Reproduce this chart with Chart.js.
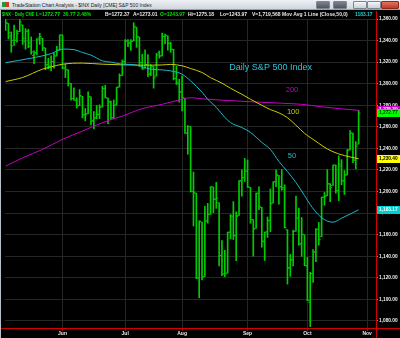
<!DOCTYPE html>
<html>
<head>
<meta charset="utf-8">
<script src="https://cdn.jsdelivr.net/npm/chart.js@4.4.1/dist/chart.umd.min.js"></script>
<style>
  body { margin: 0; background: #000; }
  #frame { position: relative; width: 400px; height: 338px; background: #000; overflow: hidden; font-family: 'Liberation Sans', Arial, sans-serif; }
  #chart { position: absolute; left: 0; top: 0; }
  #titlebar { position: absolute; left: 0; top: 0; width: 400px; height: 10px; background: linear-gradient(#eef1f5, #d0d6de); border-bottom: 1px solid #98a1ab; box-sizing: border-box; }
  #titlebar .txt { position: absolute; left: 12px; top: 1px; font-size: 5px; line-height: 8px; color: #1a1a1a; white-space: nowrap; }
  #titlebar .ico { position: absolute; left: 2px; top: 2px; width: 7px; height: 5px; background: linear-gradient(90deg, #1f9d3a 50%, #d23a2a 50%); }
  .btn { position: absolute; top: 1px; height: 8px; border: 1px solid #7c8590; box-sizing: border-box; border-radius: 1px; background: linear-gradient(#f4f6f8, #c9d0d8); }
  .btn.dark { background: linear-gradient(#7a838d, #4d5560); }
  .btn.close { background: linear-gradient(#e8705f, #c0392b); border-color: #8a2a20; }
  #status { position: absolute; left: 0; top: 11px; height: 8px; width: 376px; }
  #status span { position: absolute; top: 0; font-size: 5px; font-weight: bold; white-space: nowrap; line-height: 7px; transform-origin: 0 0; }
  #leftedge { position: absolute; left: 0; top: 10px; width: 1px; height: 328px; background: #b8c0c8; }
</style>
</head>
<body>
<div id="frame">
  <canvas id="chart" width="400" height="338"></canvas>
  <div id="titlebar">
    <div class="ico"></div>
    <div class="txt">TradeStation Chart Analysis - $INX Daily [CME] S&amp;P 500 Index</div>
    <div class="btn dark" style="left:316px;width:14px"></div>
    <div class="btn dark" style="left:333px;width:14px"></div>
    <div class="btn" style="left:353px;width:14px"></div>
    <div class="btn" style="left:367px;width:14px"></div>
    <div class="btn close" style="left:381px;width:18px"></div>
  </div>
  <div id="status">
    <span style="left:2px;color:#00e000">$INX - Daily CME</span>
    <span style="left:36px;color:#00e000">L=1272.77</span>
    <span style="left:63px;color:#00e000">30.77</span>
    <span style="left:77px;color:#00e000">2.48%</span>
    <span style="left:105px;color:#e8e8e8">B=1272.37</span>
    <span style="left:133px;color:#e8e8e8">A=1273.01</span>
    <span style="left:160px;color:#00e000">O=1243.97</span>
    <span style="left:188px;color:#e8e8e8">Hi=1275.18</span>
    <span style="left:220px;color:#e8e8e8">Lo=1243.97</span>
    <span style="left:252px;color:#e8e8e8">V=1,719,568</span>
    <span style="left:282px;color:#e8e8e8">Mov Avg 1 Line (Close,50,0)</span>
    <span style="left:355px;color:#20d0d0">1183.17</span>
  </div>
  <div id="leftedge"></div>
</div>
<script>
// Daily bars, May 2 - Oct 27 2011 (bar index = position in these arrays)
var days = ['May 2','May 3','May 4','May 5','May 6','May 9','May 10','May 11','May 12','May 13',
  'May 16','May 17','May 18','May 19','May 20','May 23','May 24','May 25','May 26','May 27','May 31',
  'Jun 1','Jun 2','Jun 3','Jun 6','Jun 7','Jun 8','Jun 9','Jun 10','Jun 13','Jun 14','Jun 15','Jun 16','Jun 17',
  'Jun 20','Jun 21','Jun 22','Jun 23','Jun 24','Jun 27','Jun 28','Jun 29','Jun 30',
  'Jul 1','Jul 5','Jul 6','Jul 7','Jul 8','Jul 11','Jul 12','Jul 13','Jul 14','Jul 15','Jul 18','Jul 19','Jul 20',
  'Jul 21','Jul 22','Jul 25','Jul 26','Jul 27','Jul 28','Jul 29',
  'Aug 1','Aug 2','Aug 3','Aug 4','Aug 5','Aug 8','Aug 9','Aug 10','Aug 11','Aug 12','Aug 15','Aug 16','Aug 17',
  'Aug 18','Aug 19','Aug 22','Aug 23','Aug 24','Aug 25','Aug 26','Aug 29','Aug 30','Aug 31',
  'Sep 1','Sep 2','Sep 6','Sep 7','Sep 8','Sep 9','Sep 12','Sep 13','Sep 14','Sep 15','Sep 16','Sep 19','Sep 20',
  'Sep 21','Sep 22','Sep 23','Sep 26','Sep 27','Sep 28','Sep 29','Sep 30',
  'Oct 3','Oct 4','Oct 5','Oct 6','Oct 7','Oct 10','Oct 11','Oct 12','Oct 13','Oct 14','Oct 17','Oct 18','Oct 19',
  'Oct 20','Oct 21','Oct 24','Oct 25','Oct 26','Oct 27'];

var opens = [1365.2,1359.8,1355.9,1344.2,1340.2,1340.2,1348.3,1354.5,1339.4,1348.7,
  1334.8,1326.1,1328.5,1342.4,1342.0,1333.1,1317.7,1316.4,1320.6,1325.7,1331.1,
  1345.2,1314.6,1312.9,1300.3,1286.3,1284.6,1279.6,1288.3,1271.3,1272.2,1287.9,1265.5,1268.6,
  1271.5,1278.4,1295.5,1286.6,1283.0,1268.4,1280.2,1296.9,1307.6,
  1320.6,1339.6,1337.6,1339.6,1352.4,1343.3,1319.6,1314.5,1317.7,1308.9,1315.9,1307.1,1328.7,
  1325.7,1343.8,1344.3,1337.4,1331.9,1304.8,1300.1,
  1292.6,1286.6,1254.3,1260.2,1200.3,1198.5,1120.2,1171.8,1121.3,1172.9,1178.9,1204.2,1192.9,
  1189.6,1140.5,1123.6,1124.4,1162.2,1176.7,1158.9,1177.9,1209.8,1213.0,
  1219.1,1203.9,1174.0,1165.9,1198.0,1185.4,1153.5,1162.6,1173.3,1189.4,1209.2,1215.0,1204.5,
  1203.6,1164.6,1128.8,1136.9,1163.3,1175.4,1151.7,1159.9,
  1131.2,1097.4,1124.0,1144.1,1165.0,1158.2,1194.6,1196.2,1207.0,1205.7,1224.5,1200.8,1223.5,
  1209.9,1215.4,1238.7,1254.2,1229.2,1244.0];

var highs = [1370.6,1360.8,1355.9,1348.0,1354.4,1349.4,1359.4,1354.5,1351.1,1350.5,
  1343.3,1330.4,1341.8,1346.8,1342.0,1333.1,1323.7,1325.9,1328.5,1334.6,1345.2,
  1345.2,1318.0,1312.9,1300.3,1296.2,1287.0,1294.5,1288.3,1277.0,1292.5,1287.9,1274.1,1279.8,
  1280.4,1297.6,1298.6,1286.6,1283.9,1284.9,1296.8,1309.2,1322.0,
  1341.0,1340.9,1340.9,1356.5,1352.4,1343.3,1327.2,1331.5,1326.9,1317.7,1315.9,1328.1,1330.4,
  1347.0,1346.1,1344.3,1338.5,1331.9,1316.3,1304.2,
  1307.4,1286.6,1261.2,1260.2,1218.1,1198.5,1172.9,1171.8,1186.3,1189.0,1204.5,1204.2,1208.5,
  1189.6,1154.5,1145.5,1162.4,1178.6,1190.7,1181.2,1210.3,1220.1,1230.7,
  1229.3,1203.9,1174.0,1198.6,1204.4,1185.4,1162.5,1176.4,1202.4,1209.1,1220.1,1215.0,1220.4,
  1206.3,1164.6,1141.7,1164.2,1195.9,1184.7,1175.9,1159.9,
  1139.0,1125.1,1146.1,1165.6,1171.4,1194.9,1199.2,1220.3,1207.5,1224.6,1224.5,1233.1,1229.6,
  1219.5,1239.0,1256.6,1254.2,1246.3,1275.2];

var lows = [1358.6,1349.5,1341.5,1329.2,1335.6,1338.6,1348.3,1336.4,1332.0,1333.4,
  1327.3,1318.5,1326.6,1336.4,1330.7,1312.9,1313.9,1311.8,1314.4,1325.7,1331.1,
  1313.7,1305.6,1297.9,1284.7,1284.7,1277.4,1279.6,1268.3,1265.6,1272.2,1261.9,1258.1,1267.4,
  1267.6,1278.4,1286.8,1262.9,1267.2,1267.5,1280.2,1296.9,1307.6,
  1318.2,1334.3,1330.9,1339.6,1333.7,1316.4,1313.3,1314.5,1306.5,1307.4,1295.9,1307.1,1323.7,
  1325.7,1337.0,1331.1,1329.1,1303.5,1299.2,1282.9,
  1274.7,1254.0,1234.6,1199.5,1168.1,1119.3,1101.5,1118.0,1121.3,1170.7,1178.9,1180.5,1184.4,
  1131.0,1122.1,1121.1,1124.4,1156.3,1155.5,1135.9,1177.9,1195.8,1209.4,
  1203.9,1170.6,1140.1,1165.9,1183.3,1148.4,1136.1,1157.4,1162.7,1189.4,1204.5,1188.4,1201.3,
  1166.2,1114.2,1121.4,1131.1,1163.3,1150.4,1139.9,1131.3,
  1098.9,1074.8,1115.7,1135.0,1150.3,1158.2,1187.3,1196.2,1190.6,1205.7,1198.6,1191.5,1206.3,
  1197.3,1215.4,1238.7,1226.8,1221.1,1244.0];

var closes = [1361.2,1356.6,1347.3,1335.1,1340.2,1346.3,1357.2,1342.1,1348.7,1337.8,
  1329.5,1329.0,1340.7,1343.6,1333.3,1317.4,1316.3,1320.5,1325.7,1331.1,1345.2,
  1314.6,1312.9,1300.2,1286.2,1284.9,1279.6,1289.0,1271.0,1271.8,1287.9,1265.4,1267.6,1271.5,
  1278.4,1295.5,1287.1,1283.5,1268.5,1280.1,1296.7,1307.4,1320.6,
  1339.7,1337.9,1339.2,1353.2,1343.8,1319.5,1313.6,1317.7,1308.9,1316.1,1305.4,1326.7,1325.8,
  1343.8,1345.0,1337.4,1331.9,1304.9,1300.7,1292.3,
  1286.9,1254.1,1260.3,1200.1,1199.4,1119.5,1172.5,1120.8,1172.6,1178.8,1204.5,1192.8,1193.9,
  1140.7,1123.5,1123.8,1162.4,1177.6,1159.3,1176.8,1210.1,1212.9,1218.9,
  1204.4,1174.0,1165.2,1198.6,1185.9,1154.2,1162.3,1172.9,1188.7,1209.1,1216.0,1204.1,1202.1,
  1166.8,1129.6,1136.4,1163.0,1175.4,1151.1,1160.4,1131.4,
  1099.2,1124.0,1144.0,1165.0,1155.5,1194.9,1195.5,1207.3,1203.7,1224.6,1200.9,1225.4,1209.9,
  1215.4,1238.3,1254.2,1229.1,1242.0,1272.77];

// Moving averages: [bar index, value]
var ma50Pts = [[1,1319.5],[10,1323.7],[17,1327.9],[21,1332.1],[25,1331.6],[28,1329.0],[31,1326.5],
  [35,1321.2],[38,1320.0],[42,1318.1],[46,1317.7],[49,1315.6],[52,1313.5],[56,1312.8],[59,1311.9],
  [63,1308.8],[66,1302.6],[70,1292.1],[72,1285.6],[75,1278.1],[78,1268.8],[80,1263.9],[84,1259.3],
  [87,1254.9],[91,1245.6],[94,1239.1],[97,1227.9],[100,1218.6],[103,1208.4],[106,1196.3],[108,1187.9],
  [111,1178.1],[114,1172.6],[116,1171.6],[119,1175.3],[122,1179.1],[125,1183.17]];
var ma100Pts = [[1,1302.0],[7,1305.8],[14,1313.5],[17,1315.6],[21,1318.1],[28,1319.1],[35,1318.1],
  [42,1317.5],[49,1317.2],[56,1317.4],[59,1317.9],[63,1316.6],[66,1314.1],[70,1310.4],[73,1305.6],
  [77,1300.5],[80,1295.8],[84,1290.2],[87,1285.6],[91,1280.0],[94,1276.0],[97,1273.0],[100,1268.5],
  [103,1261.5],[106,1254.0],[108,1250.2],[111,1244.7],[114,1239.5],[118,1234.9],[122,1232.1],[125,1230.40]];
var ma200Pts = [[1,1223.5],[7,1231.3],[14,1239.1],[21,1248.4],[28,1256.1],[35,1263.9],[42,1270.0],
  [49,1276.9],[56,1280.9],[63,1285.6],[66,1287.0],[70,1286.0],[77,1284.7],[84,1283.7],[91,1282.8],
  [98,1281.9],[105,1280.9],[112,1278.6],[119,1276.7],[125,1275.3]];

// Axis ticks
var monthIdx = [21, 43, 63, 86, 107, 128];
var monthLabels = ['Jun', 'Jul', 'Aug', 'Sep', 'Oct', 'Nov'];
var yTicks = [1080, 1100, 1120, 1140, 1160, 1180, 1200, 1220, 1240, 1260, 1280, 1300, 1320, 1340, 1360];

var barColor = '#00cc00';

function fmt(v) {
    return v.toLocaleString('en-US', { minimumFractionDigits: 2, maximumFractionDigits: 2 });
}

// squeeze status line pieces so each one ends before the next starts
var spans = document.querySelectorAll('#status span');
for (var k = 0; k < spans.length; k++) {
    var left = parseFloat(spans[k].style.left);
    var next = k + 1 < spans.length ? parseFloat(spans[k + 1].style.left) : 374;
    var room = next - left - 1.5;
    var w = spans[k].getBoundingClientRect().width;
    if (w > room) spans[k].style.transform = 'scaleX(' + (room / w).toFixed(3) + ')';
}

// Background, red frame, chart notes and the value tags on the price axis
var chromePlugin = {
    id: 'chrome',
    beforeDraw: function (chart) {
        var c = chart.ctx;
        c.save();
        c.fillStyle = '#000';
        c.fillRect(0, 0, chart.width, chart.height);
        c.restore();
    },
    afterDatasetsDraw: function (chart) {
        var c = chart.ctx, x = chart.scales.x, y = chart.scales.y;
        var notes = [
            ['Daily S&P 500 Index', 79.6, 1315.3, '#2fc4d8', 9],
            ['200', 99.4, 1294, '#c000c0', 7.5],
            ['100', 99.8, 1273.5, '#c8c800', 7.5],
            ['50', 100.1, 1232.6, '#20b8c8', 7.5]
        ];
        c.save();
        c.textBaseline = 'middle';
        notes.forEach(function (n) {
            c.font = n[4] + 'px "Liberation Sans", Arial, sans-serif';
            c.fillStyle = n[3];
            c.fillText(n[0], x.getPixelForValue(n[1]), y.getPixelForValue(n[2]));
        });
        c.restore();
    },
    afterDraw: function (chart) {
        var c = chart.ctx, a = chart.chartArea, y = chart.scales.y;
        c.save();
        c.strokeStyle = '#d40000';
        c.lineWidth = 1;
        c.beginPath();
        c.moveTo(0, a.bottom + 0.5);
        c.lineTo(chart.width, a.bottom + 0.5);
        c.moveTo(a.right + 0.5, 11);
        c.lineTo(a.right + 0.5, chart.height);
        c.stroke();

        var tags = [
            [ma200Pts[ma200Pts.length - 1][1], '#c800c8', '#ffffff'],
            [ma100Pts[ma100Pts.length - 1][1], '#ffff00', '#000000'],
            [ma50Pts[ma50Pts.length - 1][1], '#00d0d0', '#ffffff'],
            [closes[closes.length - 1], '#00ff00', '#003300']
        ];
        c.font = 'bold 4.8px "Liberation Sans", Arial, sans-serif';
        c.textBaseline = 'middle';
        tags.forEach(function (t) {
            var py = Math.round(y.getPixelForValue(t[0]));
            c.fillStyle = t[1];
            c.fillRect(a.right + 1, py - 4, chart.width - a.right - 1, 8);
            c.fillStyle = t[2];
            c.fillText(fmt(t[0]), a.right + 3, py);
        });
        c.restore();
    }
};

var ctx = document.getElementById('chart').getContext('2d');

var chart = new Chart(ctx, {
    type: 'bar',
    data: {
        datasets: [
            {
                type: 'line', label: 'MA 50',
                data: ma50Pts.map(function (p) { return { x: p[0], y: p[1] }; }),
                borderColor: '#1ab8c8', borderWidth: 1, pointRadius: 0,
                cubicInterpolationMode: 'monotone'
            },
            {
                type: 'line', label: 'MA 100',
                data: ma100Pts.map(function (p) { return { x: p[0], y: p[1] }; }),
                borderColor: '#cccc00', borderWidth: 1, pointRadius: 0,
                cubicInterpolationMode: 'monotone'
            },
            {
                type: 'line', label: 'MA 200',
                data: ma200Pts.map(function (p) { return { x: p[0], y: p[1] }; }),
                borderColor: '#c400c4', borderWidth: 1, pointRadius: 0,
                cubicInterpolationMode: 'monotone'
            },
            {
                type: 'scatter', label: 'Open',
                data: opens.map(function (v, i) { return { x: i - 0.4, y: v }; }),
                pointStyle: 'line', pointRadius: 0.75, pointBorderWidth: 1,
                pointBorderColor: barColor, pointBackgroundColor: barColor
            },
            {
                type: 'scatter', label: 'Close',
                data: closes.map(function (v, i) { return { x: i + 0.4, y: v }; }),
                pointStyle: 'line', pointRadius: 0.75, pointBorderWidth: 1,
                pointBorderColor: barColor, pointBackgroundColor: barColor
            },
            {
                type: 'bar', label: 'Range',
                data: highs.map(function (h, i) { return { x: i, y: [lows[i], h] }; }),
                backgroundColor: barColor, borderWidth: 0, barThickness: 1
            }
        ]
    },
    options: {
        responsive: false,
        animation: false,
        events: [],
        devicePixelRatio: 1,
        layout: { padding: { left: 2, top: 19, right: 0, bottom: 0 } },
        plugins: { legend: { display: false }, tooltip: { enabled: false } },
        scales: {
            x: {
                type: 'linear', min: 0.8, max: 131.1, offset: false,
                afterBuildTicks: function (s) { s.ticks = monthIdx.map(function (v) { return { value: v }; }); },
                afterFit: function (s) { s.height = 10; },
                ticks: {
                    autoSkip: false, maxRotation: 0, padding: 0, color: '#e8e8e8',
                    font: { size: 5, weight: 'bold', family: '"Liberation Sans", Arial, sans-serif' },
                    callback: function (v, i) { return monthLabels[i]; }
                },
                grid: { color: '#262626', tickColor: '#c00000', tickLength: 3, offset: false },
                border: { display: false }
            },
            y: {
                type: 'linear', position: 'right', min: 1073.5, max: 1360,
                afterBuildTicks: function (s) { s.ticks = yTicks.map(function (v) { return { value: v }; }); },
                afterFit: function (s) { s.width = 24; },
                ticks: {
                    padding: 1, color: '#f0f0f0',
                    font: { size: 4.8, weight: 'bold', family: '"Liberation Sans", Arial, sans-serif' },
                    callback: function (v) { return fmt(v); }
                },
                grid: { color: '#262626', tickColor: '#909090', tickLength: 2 },
                border: { display: false }
            }
        }
    },
    plugins: [chromePlugin]
});
</script>
</body>
</html>
